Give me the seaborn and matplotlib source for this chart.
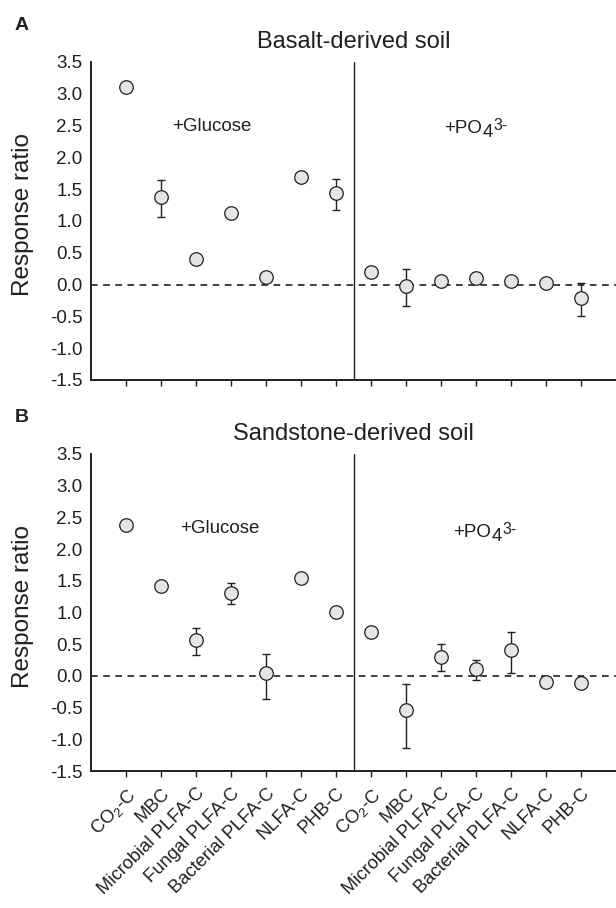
import numpy as np
import pandas as pd
import matplotlib
matplotlib.use("Agg")
import matplotlib.pyplot as plt
from matplotlib.ticker import FormatStrFormatter
import seaborn as sns

# ---------------- data ----------------
variables = ["CO$_\\mathregular{2}$-C", "MBC", "Microbial PLFA-C", "Fungal PLFA-C",
             "Bacterial PLFA-C", "NLFA-C", "PHB-C"]
categories = variables + variables
treatment = ["+Glucose"] * 7 + ["+PO4"] * 7

basalt_mean = [3.10, 1.38, 0.40, 1.12, 0.125, 1.69, 1.44,
               0.20, -0.02, 0.06, 0.105, 0.06, 0.02, -0.21]
basalt_err_low = [0, 0.31, 0, 0, 0, 0, 0.27,
                  0, 0.32, 0.03, 0.085, 0, 0.02, 0.29]
basalt_err_high = [0, 0.265, 0, 0, 0, 0, 0.22,
                   0, 0.26, 0.03, 0.085, 0, 0.02, 0.24]

sand_mean = [2.38, 1.42, 0.56, 1.30, 0.04, 1.54, 1.01,
             0.69, -0.53, 0.30, 0.105, 0.415, -0.095, -0.115]
sand_err_low = [0, 0, 0.23, 0.16, 0.40, 0.08, 0,
                0, 0.60, 0.23, 0.165, 0.365, 0.07, 0]
sand_err_high = [0, 0, 0.20, 0.17, 0.31, 0.09, 0,
                 0, 0.41, 0.20, 0.145, 0.285, 0.07, 0]

panel_titles = ["Basalt-derived soil", "Sandstone-derived soil"]
panel_letters = ["A", "B"]
y_ticks = [-1.5, -1.0, -0.5, 0.0, 0.5, 1.0, 1.5, 2.0, 2.5, 3.0, 3.5]

# ---------------- style ----------------
sns.set_theme(style="ticks")
plt.rcParams["font.family"] = ["Liberation Sans", "DejaVu Sans"]
plt.rcParams["mathtext.fontset"] = "custom"
plt.rcParams["mathtext.rm"] = "Liberation Sans"
plt.rcParams["mathtext.it"] = "Liberation Sans:italic"
plt.rcParams["mathtext.bf"] = "Liberation Sans:bold"
plt.rcParams["axes.unicode_minus"] = False

TXT = "#231f20"
FACE = "#e4e5e7"

W, H = 616, 908
fig = plt.figure(figsize=(W / 100, H / 100), dpi=100)

ax_left = 91 / W
ax_w = (616 - 91) / W
tops = [62, 454]
bots = [380, 771]

datasets = [
    (basalt_mean, basalt_err_low, basalt_err_high),
    (sand_mean, sand_err_low, sand_err_high),
]
glucose_pos = [(2.45, 2.48), (2.69, 2.32)]
po4_pos = [(9.1, 2.38), (9.35, 2.19)]

for i, (mean, elo, ehi) in enumerate(datasets):
    top, bot = tops[i], bots[i]
    ax = fig.add_axes([ax_left, 1 - bot / H, ax_w, (bot - top) / H])
    pos = np.arange(len(categories))
    df = pd.DataFrame({"pos": pos, "mean": mean, "lo": elo, "hi": ehi,
                       "treatment": treatment})

    ax.axhline(0, color=TXT, lw=1.2, ls=(0, (4.0, 3.3)), zorder=1)
    ax.axvline(6.5, color=TXT, lw=1.0, zorder=1)

    has_err = (df["lo"] > 0) | (df["hi"] > 0)
    d = df[has_err]
    ax.errorbar(d["pos"], d["mean"], yerr=[d["lo"], d["hi"]], fmt="none",
                ecolor=TXT, elinewidth=1.0, capsize=2.6, capthick=1.0, zorder=2)
    sns.scatterplot(data=df, x="pos", y="mean", ax=ax, s=95, color=FACE,
                    edgecolor=TXT, linewidth=0.9, zorder=3, legend=False)

    ax.set_xlim(-1, 14)
    ax.set_ylim(-1.5, 3.5)
    ax.set_yticks(y_ticks)
    ax.yaxis.set_major_formatter(FormatStrFormatter("%.1f"))
    ax.set_xticks(pos)
    if i == 1:
        ax.set_xticklabels(categories, rotation=45, ha="right", va="top",
                           rotation_mode="anchor", fontsize=13.2, color=TXT)
    else:
        ax.set_xticklabels([])
    ax.tick_params(axis="y", length=0, pad=6, labelsize=13.5, labelcolor=TXT)
    ax.tick_params(axis="x", length=4, width=1.0, color=TXT, pad=6)
    ax.set_xlabel("")
    ax.set_ylabel("")
    for s in ["top", "right"]:
        ax.spines[s].set_visible(False)
    for s in ["left", "bottom"]:
        ax.spines[s].set_linewidth(1.4)
        ax.spines[s].set_color(TXT)

    h = bot - top
    ax.text(0.5, 1 + 20.5 / h, panel_titles[i], transform=ax.transAxes,
            ha="center", va="center", fontsize=17, color=TXT)
    ax.text((22 - 91) / 525, 1 + 37 / h, panel_letters[i], transform=ax.transAxes,
            ha="center", va="center", fontsize=14, fontweight="bold", color=TXT)
    ax.text((23 - 91) / 525, 0.5 + 6 / h, "Response ratio", transform=ax.transAxes,
            rotation=90, ha="center", va="center", fontsize=17.5, color=TXT)
    gx, gy = glucose_pos[i]
    ax.text(gx, gy, "+Glucose", ha="center", va="center", fontsize=13.5, color=TXT)
    px, py = po4_pos[i]
    t1 = ax.text(px, py, "+PO", ha="left", va="baseline", fontsize=13.5, color=TXT)
    t2 = ax.annotate("4", xy=(1, 0), xycoords=t1, xytext=(0, -3.5),
                     textcoords="offset pixels", ha="left", va="bottom",
                     fontsize=13.5, color=TXT)
    ax.annotate("3-", xy=(1, 1), xycoords=(t2, t1), xytext=(0.5, 2.5),
                textcoords="offset pixels", ha="left", va="top",
                fontsize=11.5, color=TXT)

fig.savefig("out.png", dpi=100)
